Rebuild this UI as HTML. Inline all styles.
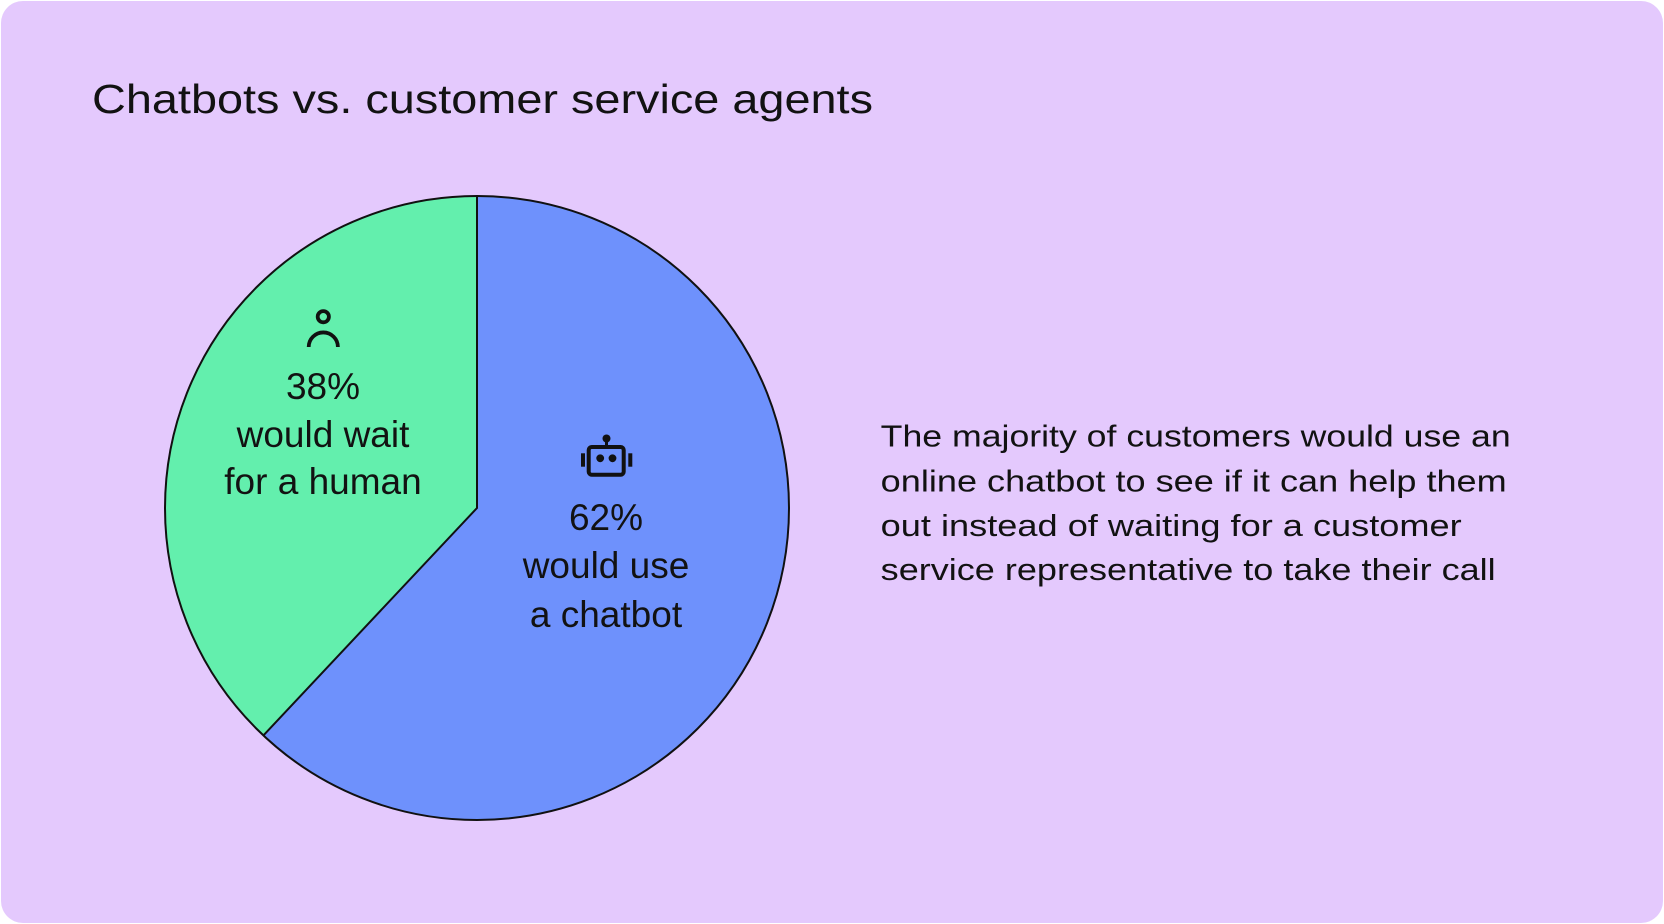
<!DOCTYPE html>
<html>
<head>
<meta charset="utf-8">
<style>
  html, body { margin: 0; padding: 0; background: #ffffff; }
  body { width: 1664px; height: 924px; overflow: hidden; }
  svg { display: block; }
  text { font-family: "Liberation Sans", Arial, sans-serif; fill: #121212; }
</style>
</head>
<body>
<svg width="1664" height="924" viewBox="0 0 1664 924" xmlns="http://www.w3.org/2000/svg">
  <rect x="1" y="1" width="1662" height="922" rx="22" ry="22" fill="#E4C9FD"/>

  <text x="92" y="113" font-size="41" textLength="781" lengthAdjust="spacingAndGlyphs">Chatbots vs. customer service agents</text>

  <!-- Pie -->
  <circle cx="477" cy="508" r="312" fill="#6E91FC"/>
  <path d="M477,508 L477,196 A312,312 0 0 0 263.4,735.4 Z" fill="#63EFAD"/>
  <circle cx="477" cy="508" r="312" fill="none" stroke="#111" stroke-width="2"/>
  <path d="M477,196 L477,508 L263.4,735.4" fill="none" stroke="#111" stroke-width="2"/>

  <!-- Person icon -->
  <circle cx="323.3" cy="316.7" r="5.6" fill="none" stroke="#111" stroke-width="3.8"/>
  <path d="M308.7,347 A14.6,14.6 0 0 1 337.9,347" fill="none" stroke="#111" stroke-width="3.8"/>

  <text x="323" y="399" font-size="37" text-anchor="middle">38%</text>
  <text x="323" y="447" font-size="37" text-anchor="middle">would wait</text>
  <text x="323" y="494" font-size="37" text-anchor="middle">for a human</text>

  <!-- Robot icon -->
  <circle cx="606.5" cy="438.5" r="4" fill="#111"/>
  <rect x="605" y="440" width="3" height="7" fill="#111"/>
  <rect x="588.7" y="447" width="35" height="27.7" rx="3" ry="3" fill="none" stroke="#111" stroke-width="4"/>
  <circle cx="600.2" cy="458.3" r="3.9" fill="#111"/>
  <circle cx="612.5" cy="458.3" r="3.9" fill="#111"/>
  <rect x="581" y="453.3" width="4" height="13.4" fill="#111"/>
  <rect x="628.3" y="453.3" width="4" height="13.4" fill="#111"/>

  <text x="606" y="530" font-size="37" text-anchor="middle">62%</text>
  <text x="606" y="578" font-size="37" text-anchor="middle">would use</text>
  <text x="606" y="627" font-size="37" text-anchor="middle">a chatbot</text>

  <!-- Paragraph -->
  <text x="880.7" y="446.7" font-size="31" textLength="630" lengthAdjust="spacingAndGlyphs">The majority of customers would use an</text>
  <text x="880.7" y="491.5" font-size="31" textLength="626" lengthAdjust="spacingAndGlyphs">online chatbot to see if it can help them</text>
  <text x="880.7" y="536" font-size="31" textLength="581" lengthAdjust="spacingAndGlyphs">out instead of waiting for a customer</text>
  <text x="880.7" y="580" font-size="31" textLength="615" lengthAdjust="spacingAndGlyphs">service representative to take their call</text>
</svg>
</body>
</html>
